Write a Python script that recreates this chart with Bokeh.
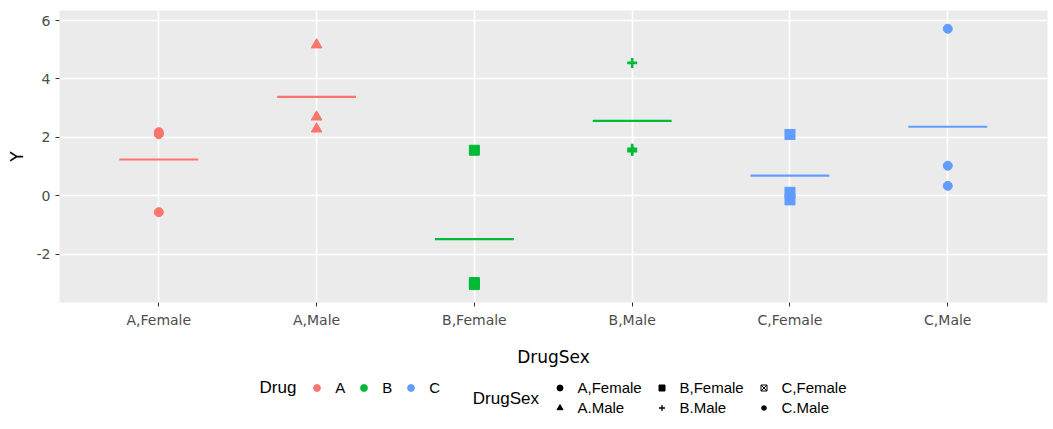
from bokeh.plotting import figure
from bokeh.layouts import column
from bokeh.models import Range1d, FixedTicker, Legend, LegendItem, Label, ColumnDataSource
from bokeh.embed import file_html
from bokeh.resources import INLINE

# ---------------- data ----------------
categories = ["A,Female", "A,Male", "B,Female", "B,Male", "C,Female", "C,Male"]
category_drug = ["A", "A", "B", "B", "C", "C"]

a_female = [2.18, 2.11, -0.56]
a_male = [5.17, 2.70, 2.29]
b_female = [1.56, -2.97, -3.04]
b_male = [4.55, 1.61, 1.53]
c_female = [2.10, 0.12, -0.14]
c_male = [5.72, 1.03, 0.34]

drug_levels = ["A", "B", "C"]
legend_sex_labels = ["A,Female", "A.Male", "B,Female", "B.Male", "C,Female", "C.Male"]
y_ticks = [-2, 0, 2, 4, 6]

# ---------------- styles ----------------
drug_colors = {"A": "#F8766D", "B": "#00BA38", "C": "#619CFF"}
plot_markers = ["circle", "triangle", "square", "cross", "square_x", "circle"]
plot_sizes = [9, 10.7, 10, 10, 10, 9]
legend_markers = ["circle", "triangle", "square", "cross", "square_x", "asterisk"]

series = [a_female, a_male, b_female, b_male, c_female, c_male]

W = 1050
p = figure(width=W, height=370, output_backend="svg", toolbar_location=None,
           x_range=Range1d(0.3707, 6.632), y_range=Range1d(-3.653, 6.344),
           min_border_left=59, min_border_right=3, min_border_top=10, min_border_bottom=68)

p.background_fill_color = "#EBEBEB"
p.border_fill_color = "white"
p.outline_line_color = None

for g in (p.xgrid, p.ygrid):
    g.grid_line_color = "white"
    g.grid_line_width = 1.6
p.xgrid.ticker = FixedTicker(ticks=list(range(1, len(categories) + 1)))
p.ygrid.ticker = FixedTicker(ticks=y_ticks)

p.xaxis.ticker = FixedTicker(ticks=list(range(1, len(categories) + 1)))
p.xaxis.major_label_overrides = {i + 1: c for i, c in enumerate(categories)}
p.yaxis.ticker = FixedTicker(ticks=y_ticks)
p.yaxis.major_label_overrides = {t: str(t) for t in y_ticks}

for ax in (p.xaxis, p.yaxis):
    ax.axis_line_color = None
    ax.major_tick_line_color = "#333333"
    ax.major_tick_in = 0
    ax.major_tick_out = 4
    ax.minor_tick_line_color = None
    ax.major_label_text_font = "DejaVu Sans"
    ax.major_label_text_font_size = "14px"
    ax.major_label_text_color = "#4D4D4D"
    ax.axis_label_text_font = "DejaVu Sans"
    ax.axis_label_text_font_size = "17px"
    ax.axis_label_text_font_style = "normal"
    ax.axis_label_text_color = "black"

p.xaxis.axis_label = "DrugSex"
p.yaxis.axis_label = "Y"
p.xaxis.major_label_standoff = 5
p.xaxis.axis_label_standoff = 16
p.yaxis.major_label_standoff = 5
p.yaxis.axis_label_standoff = 7

# points and mean lines
for i, (cat, vals) in enumerate(zip(categories, series)):
    col = drug_colors[category_drug[i]]
    xpos = i + 1
    src = ColumnDataSource(dict(x=[xpos] * len(vals), y=vals))
    if plot_markers[i] == "cross":
        p.scatter("x", "y", source=src, marker="cross", size=plot_sizes[i],
                  line_color=col, line_width=2.6)
    else:
        p.scatter("x", "y", source=src, marker=plot_markers[i], size=plot_sizes[i],
                  fill_color=col, line_color=col, line_width=1)
    m = sum(vals) / len(vals)
    msrc = ColumnDataSource(dict(x0=[xpos - 0.25], x1=[xpos + 0.25], y=[m]))
    p.segment(x0="x0", x1="x1", y0="y", y1="y", source=msrc, line_color=col, line_width=2.2)

# ---------------- legend strip ----------------
# (its frame is aligned with the main plot's frame by the column layout: left edge at x=59)
LH = 57
q = figure(width=W, height=LH, output_backend="svg", toolbar_location=None,
           x_range=Range1d(0, 1), y_range=Range1d(0, 1),
           x_axis_type=None, y_axis_type=None,
           min_border_left=0, min_border_right=0, min_border_top=0, min_border_bottom=0)
q.grid.visible = False
q.outline_line_color = None
q.background_fill_color = "white"
q.border_fill_color = "white"

# legend-only glyphs: a single point placed off the visible range
hidden = dict(x=[-5], y=[-5])

drug_items = []
for d in drug_levels:
    r = q.scatter(x=hidden["x"], y=hidden["y"], marker="circle",
                  fill_color=drug_colors[d], line_color=drug_colors[d])
    drug_items.append(LegendItem(label=d, renderers=[r]))
leg1 = Legend(items=drug_items, orientation="horizontal", location=(249.2, 31.5),
              glyph_width=17, glyph_height=17, label_standoff=10, label_width=0, label_height=0,
              spacing=10, padding=0, margin=0, border_line_color=None,
              background_fill_color=None, background_fill_alpha=0,
              label_text_font="Liberation Sans", label_text_font_size="15px",
              label_text_color="black")
q.add_layout(leg1)

sex_items = []
for lab, mk in zip(legend_sex_labels, legend_markers):
    if mk in ("cross", "asterisk"):
        r = q.scatter(x=hidden["x"], y=hidden["y"], marker=mk, line_color="black", line_width=1.3)
    elif mk == "square_x":
        r = q.scatter(x=hidden["x"], y=hidden["y"], marker=mk, fill_color=None,
                      line_color="black", line_width=1)
    else:
        r = q.scatter(x=hidden["x"], y=hidden["y"], marker=mk, fill_color="black",
                      line_color="black", line_width=1)
    sex_items.append(LegendItem(label=lab, renderers=[r]))
leg2 = Legend(items=sex_items, orientation="vertical", nrows=2, location=(492.5, 11.5),
              glyph_width=15, glyph_height=15, label_standoff=11, label_width=73, label_height=14,
              spacing=3, padding=0, margin=0, border_line_color=None,
              background_fill_color=None, background_fill_alpha=0,
              label_text_font="Liberation Sans", label_text_font_size="15px",
              label_text_color="black")
q.add_layout(leg2)

q.add_layout(Label(x=200, y=40, x_units="screen", y_units="screen", text="Drug",
                   text_font="Liberation Sans", text_font_size="17px", text_color="black",
                   text_baseline="middle", text_align="left"))
q.add_layout(Label(x=413.3, y=29, x_units="screen", y_units="screen", text="DrugSex",
                   text_font="Liberation Sans", text_font_size="17px", text_color="black",
                   text_baseline="middle", text_align="left"))

open("out.html", "w").write(file_html(column(p, q), INLINE))
